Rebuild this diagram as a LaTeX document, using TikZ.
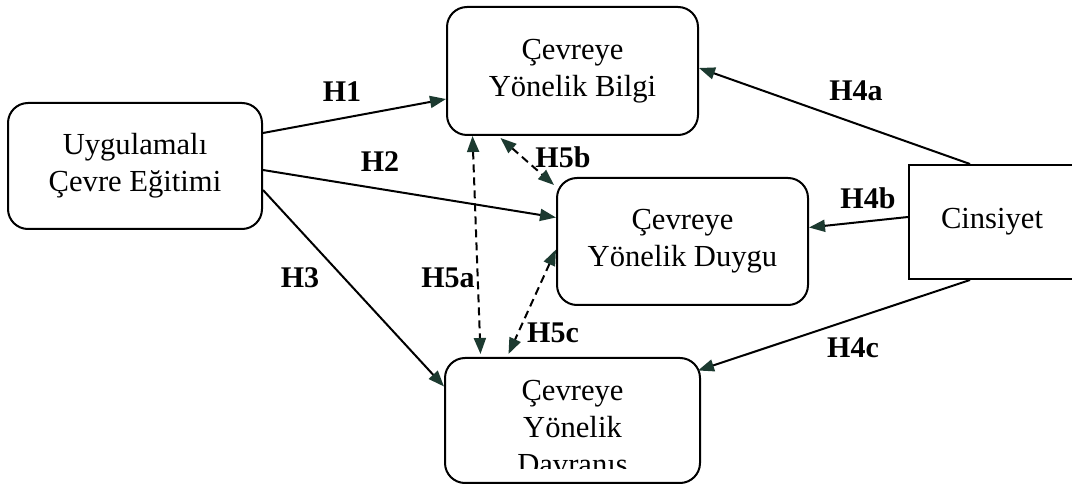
\documentclass[tikz,border=0pt]{standalone}
\usepackage{fontspec}
\setmainfont{Liberation Serif}
\usetikzlibrary{arrows.meta,positioning,calc}
\definecolor{tipgreen}{RGB}{28,58,48}
\tikzset{
  every picture/.style={font=\fontsize{15.3}{18.5}\selectfont},
  rbox/.style={draw,line width=1pt,rounded corners=10pt,align=center,inner sep=0pt},
  sbox/.style={draw,line width=1pt,align=center,inner sep=0pt},
  link/.style={line width=1pt,-{Triangle[length=8pt,width=6pt,color=tipgreen]}},
  dlink/.style={line width=1pt,dash pattern=on 4pt off 2.5pt,
    {Triangle[length=8pt,width=6pt,color=tipgreen]}-{Triangle[length=8pt,width=6pt,color=tipgreen]}},
  lab/.style={font=\fontsize{15}{18}\selectfont\bfseries,inner sep=0pt},
}

\begin{document}
\begin{tikzpicture}[x=0.5pt,y=-0.5pt]
  \useasboundingbox (0,0) rectangle (1072,486);
  % boxes
  \node[rbox,minimum width=127pt,minimum height=63pt] (uyg) at (135,166) {Uygulamalı\\Çevre Eğitimi};
  \node[rbox,minimum width=125.5pt,minimum height=64pt] (bilgi) at (572.5,71) {Çevreye\\Yönelik Bilgi};
  \node[rbox,minimum width=125.5pt,minimum height=63.5pt] (duygu) at (682.5,241.5) {Çevreye\\Yönelik Duygu};
  \node[rbox,minimum width=127.5pt,minimum height=62.5pt] (davr) at (572.5,420.5) {};
  \begin{scope}
    \clip (447,360) rectangle (698,469);
    \node[align=center,inner sep=0pt,anchor=north] (davrtext) at (572.5,380) {Çevreye\\Yönelik\\Davranış};
  \end{scope}
  \node[sbox,minimum width=83pt,minimum height=57pt] (cins) at (992,222) {Cinsiyet};
  % direct paths
  \draw[link] ([yshift=16.5pt]uyg.east) -- ([yshift=-14pt]bilgi.west);
  \draw[link] ([yshift=-2pt]uyg.east) -- ([yshift=12pt]duygu.west);
  \draw[link] ([yshift=-12pt]uyg.east) -- ([yshift=17pt]davr.west);
  \draw[link] ([xshift=-11pt]cins.north) -- ([yshift=1.5pt]bilgi.east);
  \draw[link] ([yshift=2.5pt]cins.west) -- ([yshift=7pt]duygu.east);
  \draw[link] ([xshift=-11pt]cins.south) -- ([xshift=-1.5pt,yshift=25pt]davr.east);
  % correlations
  \draw[dlink] ([xshift=-50pt]bilgi.south) -- ([xshift=-46pt,yshift=1.5pt]davr.north);
  \draw[dlink] ([xshift=-36pt,yshift=-1pt]bilgi.south) -- ([xshift=-1pt,yshift=-4pt]duygu.north west);
  \draw[dlink] ([yshift=-4pt]duygu.west) -- ([xshift=-32pt,yshift=1.5pt]davr.north);
  % labels
  \node[lab] (h1) at (342,92) {H1};
  \node[lab] (h2) at (380,162) {H2};
  \node[lab] (h3) at (300,278) {H3};
  \node[lab] (h4a) at (856,91) {H4a};
  \node[lab] (h4b) at (868,198) {H4b};
  \node[lab] (h4c) at (853,348) {H4c};
  \node[lab] (h5a) at (448,278) {H5a};
  \node[lab] (h5b) at (563,157) {H5b};
  \node[lab] (h5c) at (553,333) {H5c};
\end{tikzpicture}
\end{document}
